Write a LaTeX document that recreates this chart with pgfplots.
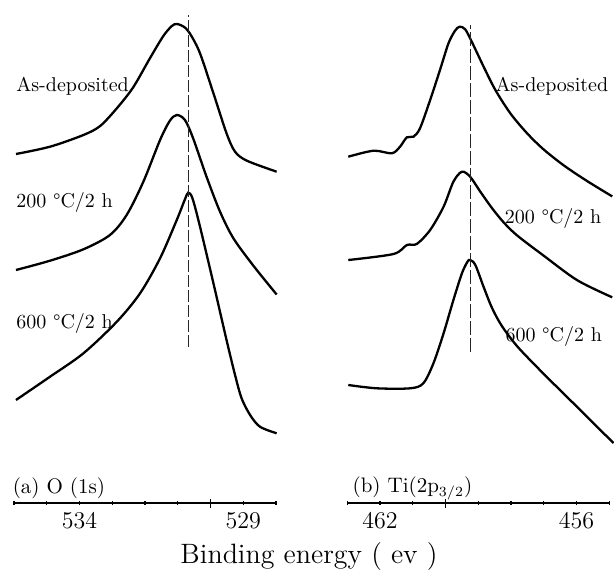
\documentclass[border=0pt]{standalone}
\usepackage{pgfplots}
\pgfplotsset{compat=1.18}

% stacked XPS spectra, intensity in a.u. (offset per curve)
\pgfplotsset{
  xpspanel/.style={
    scale only axis, width=131pt, height=251.5pt,
    anchor=south west,
    x dir=reverse, ymin=0, ymax=503,
    axis x line=bottom, axis y line=none,
    axis line style={-, line width=1.3pt, black},
    tick style={line width=0.65pt, black},
    major tick length=1.75pt, minor tick length=1.75pt,
    extra x tick style={major tick length=4.5pt},
    extra x tick labels={},
    ticklabel style={font=\fontsize{12}{14}\selectfont},
    xticklabel style={yshift=-0.6pt},
    clip=false,
  },
  spec/.style={black, line width=1.15pt, smooth, tension=0.5, no marks},
  ref/.style={black!85, line width=0.5pt, dash pattern=on 6pt off 1.5pt},
}
\tikzset{lab/.style={anchor=west, inner sep=0pt, font=\fontsize{10}{12}\selectfont}}

\begin{document}
\begin{tikzpicture}
\useasboundingbox (0,0) rectangle (307pt,287pt);

% (a) O 1s
\begin{axis}[xpspanel, at={(7pt,35.5pt)},
  xmin=528, xmax=536,
  xtick={529,534}, minor xtick={528,...,536}, extra x ticks={530}]
\addplot[spec] coordinates {
  (535.94,349) (534.90,356.3) (533.88,368) (533.37,377) (532.86,394.7)
  (532.36,415.7) (531.85,444.7) (531.44,467) (531.18,477) (531.03,479)
  (530.80,476) (530.60,468) (530.32,449.7) (529.91,409.7) (529.51,369.7)
  (529.25,351.3) (528.89,342.3) (527.98,331.3)
};
\addplot[spec] coordinates {
  (535.94,233) (534.90,242.3) (533.88,253.7) (533.07,268) (532.56,288)
  (532.05,321.3) (531.54,363) (531.24,382.3) (531.03,388) (530.78,383)
  (530.53,364.7) (530.12,326.2) (529.71,291.4) (529.30,264.7) (528.69,237.3)
  (527.98,208.5)
};
\addplot[spec] coordinates {
  (535.94,103) (534.90,126.3) (533.88,149.7) (532.86,181.3) (532.15,209.7)
  (531.54,244.7) (531.03,283) (530.78,303.7) (530.68,310.3) (530.55,304.7)
  (530.32,276.3) (529.91,219.7) (529.51,163) (529.25,128) (529.05,104.7)
  (528.79,88) (528.49,76.3) (527.98,69.7)
};
\addplot[ref] coordinates {(530.68,156.3) (530.68,488)};
\node[lab] at (axis cs:535.94,417) {As-deposited};
\node[lab] at (axis cs:535.94,301) {200 °C/2 h};
\node[lab] at (axis cs:535.94,180) {600 °C/2 h};
\node[lab, font=\fontsize{10.5}{12}\selectfont] at (axis cs:536.05,14.5) {(a) O (1s)};
\end{axis}

% (b) Ti 2p3/2
\begin{axis}[xpspanel, at={(173.65pt,35.5pt)},
  xmin=455, xmax=463,
  xtick={456,462}, minor xtick={455,...,463}, extra x ticks={460}]
\addplot[spec] coordinates {
  (462.97,346.3) (462.20,352.3) (461.64,349.7) (461.39,356.3) (461.18,365.7)
  (460.98,366.3) (460.78,374.7) (460.47,403) (460.17,433) (459.91,459.7)
  (459.71,472.3) (459.57,476.3) (459.40,473.7) (459.20,461.3) (458.84,436.5)
  (458.48,413.1) (458.02,389.6) (457.51,369.7) (457.01,353.7) (456.39,337.6)
  (455.68,322) (454.91,306.6)
};
\addplot[spec] coordinates {
  (462.97,243) (461.59,249) (461.18,258) (460.88,259) (460.47,273)
  (460.06,296.3) (459.76,321.3) (459.50,331.3) (459.25,326.3) (458.94,311.4)
  (458.58,294.8) (458.23,280.8) (457.82,267.7) (457.01,247.5) (455.98,222.8)
  (454.91,205.7)
};
\addplot[spec] coordinates {
  (462.97,118) (462.10,114.7) (461.08,114.7) (460.68,119.7) (460.37,139.7)
  (460.06,169.7) (459.76,203) (459.50,229.7) (459.33,241.3) (459.25,243)
  (459.09,238) (458.84,216.3) (458.58,195) (458.28,177) (457.82,157)
  (457.21,136) (456.60,116) (455.98,96) (455.43,78) (454.87,60)
};
\addplot[ref, dash pattern=on 7pt off 1.5pt] coordinates {(459.23,151.3) (459.23,478)};
\node[lab] at (axis cs:458.48,417) {As-deposited};
\node[lab] at (axis cs:458.20,284.7) {200 °C/2 h};
\node[lab] at (axis cs:458.18,166.3) {600 °C/2 h};
\node[lab, font=\fontsize{10.5}{12}\selectfont] at (axis cs:462.85,14.5) {(b) Ti(2p$_{3/2}$)};
\end{axis}

\node[font=\fontsize{14}{16}\selectfont] at (154.5pt,8.5pt) {Binding energy ( ev )};
\end{tikzpicture}
\end{document}
